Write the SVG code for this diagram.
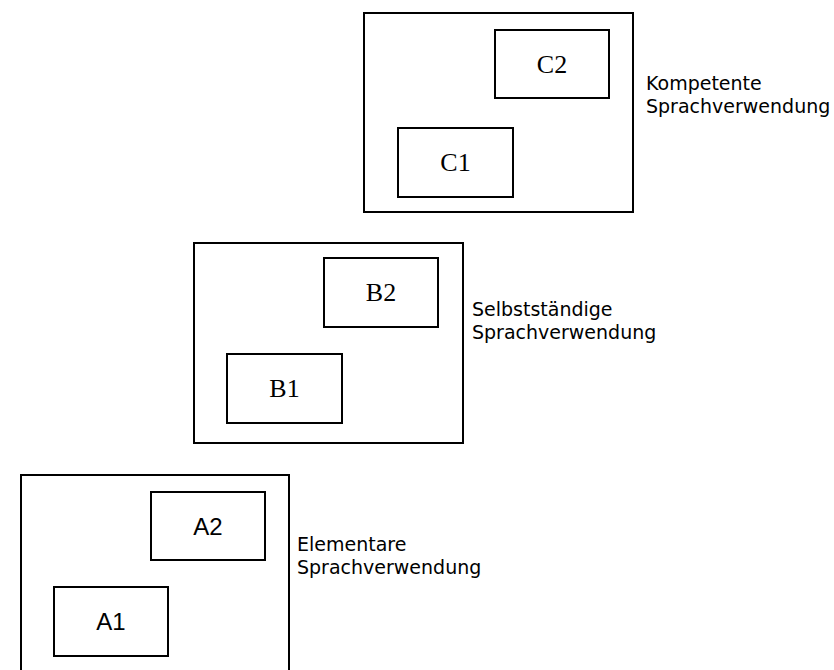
<svg xmlns="http://www.w3.org/2000/svg" width="834" height="670" viewBox="0 0 834 670">
<style>
.box{fill:none;stroke:#000;stroke-width:2}
.serif{font-family:"Liberation Serif",serif;font-size:26px;text-anchor:middle;fill:#000}
.sans{font-family:"Liberation Sans",sans-serif;font-size:24px;text-anchor:middle;fill:#000}
.lbl{font-family:"DejaVu Sans",sans-serif;font-size:19px;fill:#000}
</style>
<rect width="834" height="670" fill="#fff"/>
<g id="levelC">
<rect class="box" x="364" y="13" width="269" height="199"/>
<text class="lbl" x="646" y="90">Kompetente</text>
<text class="lbl" x="646" y="113">Sprachverwendung</text>
</g>
<g id="C2"><rect class="box" x="495" y="30" width="114" height="68"/><text class="serif" x="552" y="73">C2</text></g>
<g id="C1"><rect class="box" x="398" y="128" width="115" height="69"/><text class="serif" x="455.5" y="171">C1</text></g>
<g id="levelB">
<rect class="box" x="194" y="243" width="269" height="200"/>
<text class="lbl" x="472" y="316">Selbstständige</text>
<text class="lbl" x="472" y="339">Sprachverwendung</text>
</g>
<g id="B2"><rect class="box" x="324" y="258" width="114" height="69"/><text class="serif" x="381" y="301">B2</text></g>
<g id="B1"><rect class="box" x="227" y="354" width="115" height="69"/><text class="serif" x="284.5" y="397">B1</text></g>
<g id="levelA">
<rect class="box" x="21" y="475" width="268" height="205"/>
<text class="lbl" x="297" y="551">Elementare</text>
<text class="lbl" x="297" y="574">Sprachverwendung</text>
</g>
<g id="A2"><rect class="box" x="151" y="492" width="114" height="68"/><text class="sans" x="208" y="535">A2</text></g>
<g id="A1"><rect class="box" x="54" y="587" width="114" height="69"/><text class="sans" x="111" y="630">A1</text></g>
<g id="connectors"></g>
</svg>
